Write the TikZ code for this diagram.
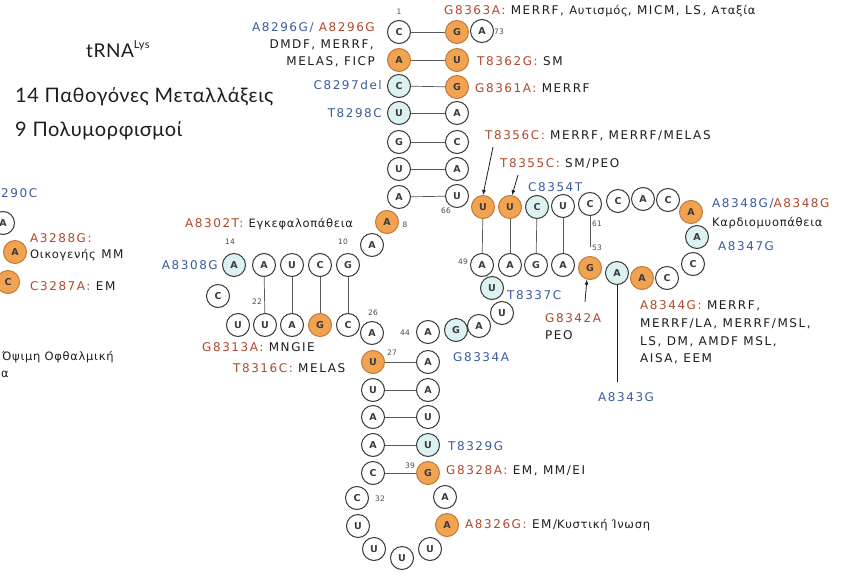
\documentclass[tikz,border=0pt]{standalone}
\usepackage{fontspec}
\setmainfont{DejaVu Sans}
\newfontfamily\labfont[LetterSpace=13]{DejaVu Sans}
\newfontfamily\grfontfam[LetterSpace=6]{DejaVu Sans}
\newfontfamily\headfont[LetterSpace=3]{Lato}
\newcommand{\gr}[1]{{\grfontfam\fontsize{11.5}{14}\selectfont #1}}
\usetikzlibrary{arrows.meta}
\definecolor{mutred}{HTML}{B0482E}
\definecolor{polyblue}{HTML}{3B5C9C}
\definecolor{ntorange}{HTML}{F2A352}
\definecolor{ntorangeline}{HTML}{C07A38}
\definecolor{ntblue}{HTML}{DCF1F1}
\definecolor{ntline}{HTML}{3A3A3A}
\definecolor{textdark}{HTML}{1E1E1E}
\tikzset{
  nt/.style={circle, draw=ntline, line width=1pt, fill=white, minimum size=23pt,
    inner sep=0pt, text=ntline, font=\bfseries\fontsize{9.5}{10}\selectfont},
  ntor/.style={nt, fill=ntorange, draw=ntorangeline},
  ntbl/.style={nt, fill=ntblue},
  bond/.style={draw=black!65, line width=0.7pt},
  lbl/.style={font=\labfont\fontsize{12}{14}\selectfont, inner sep=0pt, text=textdark},
  lblw/.style={lbl, anchor=base west},
  lble/.style={lbl, anchor=base east},
  idx/.style={font=\fontsize{7.5}{8}\selectfont, text=black!70, inner sep=0pt},
  arr/.style={draw=textdark, line width=0.8pt, -{Latex[length=5pt,width=4pt]}},
  head/.style={font=\headfont\fontsize{20}{22}\selectfont, inner sep=0pt, text=textdark, anchor=base west}
}
\begin{document}
\begin{tikzpicture}[x=1pt,y=-1pt]
\clip (0,0) rectangle (847,584);
\fill[white] (0,0) rectangle (847,584);

% ---- headings
\node[head, font=\headfont\fontsize{19}{22}\selectfont] (title) at (86,57) {tRNA\raisebox{0.45em}{\fontsize{11}{12}\selectfont Lys}};
\node[head] (patho) at (15,102) {14 Παθογόνες Μεταλλάξεις};
\node[head] (poly) at (15,136) {9 Πολυμορφισμοί};

% ---- acceptor stem
\node[nt]   (aL1) at (399,32)  {C};
\node[ntor] (aL2) at (399,60)  {A};
\node[ntbl] (aL3) at (399,86)  {C};
\node[ntbl] (aL4) at (399,113) {U};
\node[nt]   (aL5) at (399,142) {G};
\node[nt]   (aL6) at (399,169) {U};
\node[nt]   (aL7) at (399,197) {A};
\node[ntor] (aR1) at (457,32)  {G};
\node[ntor] (aR2) at (457,60)  {U};
\node[ntor] (aR3) at (457,87)  {G};
\node[nt]   (aR4) at (457,113) {A};
\node[nt]   (aR5) at (457,142) {C};
\node[nt]   (aR6) at (457,169) {A};
\node[nt]   (aR7) at (457,196) {U};
\node[nt]   (tail) at (482,31) {A};
\foreach \i in {1,...,7} \draw[bond] (aL\i) -- (aR\i);

% ---- D arm
\node[ntor] (d8)  at (387,222) {A};
\node[nt]   (d9)  at (372,245) {A};
\node[nt]   (dT1) at (348,265) {G};
\node[nt]   (dT2) at (320,265) {C};
\node[nt]   (dT3) at (292,265) {U};
\node[nt]   (dT4) at (264,265) {A};
\node[ntbl] (dT5) at (234,265) {A};
\node[nt]   (dL1) at (218,296) {C};
\node[nt]   (dL2) at (238,325) {U};
\node[nt]   (dB4) at (265,325) {U};
\node[nt]   (dB3) at (292,325) {A};
\node[ntor] (dB2) at (320,325) {G};
\node[nt]   (dB1) at (348,325) {C};
\node[nt]   (d26) at (372,333) {A};
\foreach \i in {1,...,4} \draw[bond] (dT\i) -- (dB\i);

% ---- anticodon arm
\node[ntor] (cL1) at (373,362) {U};
\node[nt]   (cL2) at (373,390) {U};
\node[nt]   (cL3) at (373,417) {A};
\node[nt]   (cL4) at (373,445) {A};
\node[nt]   (cL5) at (373,473) {C};
\node[nt]   (cP1) at (357,498) {C};
\node[nt]   (cP2) at (358,526) {U};
\node[nt]   (cP3) at (374,549) {U};
\node[nt]   (cP4) at (402,558) {U};
\node[nt]   (cP5) at (430,549) {U};
\node[ntor] (cP6) at (447,525) {A};
\node[nt]   (cP7) at (445,497) {A};
\node[ntor] (cR5) at (428,473) {G};
\node[ntbl] (cR4) at (428,445) {U};
\node[nt]   (cR3) at (428,417) {U};
\node[nt]   (cR2) at (428,390) {A};
\node[nt]   (cR1) at (428,362) {A};
\foreach \i in {1,...,5} \draw[bond] (cL\i) -- (cR\i);

% ---- variable loop
\node[nt]   (v1) at (428,332) {A};
\node[ntbl] (v2) at (456,330) {G};
\node[nt]   (v3) at (479,326) {A};
\node[nt]   (v4) at (502,313) {U};
\node[ntbl] (v5) at (492,288) {U};

% ---- T arm
\node[nt]   (tB1) at (482,265) {A};
\node[nt]   (tB2) at (510,265) {A};
\node[nt]   (tB3) at (536,265) {G};
\node[nt]   (tB4) at (563,265) {A};
\node[ntor] (tB5) at (590,268) {G};
\node[ntbl] (tL1) at (617,273) {A};
\node[ntor] (tL2) at (642,278) {A};
\node[nt]   (tL3) at (667,278) {C};
\node[nt]   (tL4) at (693,264) {C};
\node[ntbl] (tL5) at (697,237) {A};
\node[ntor] (tL6) at (691,212) {A};
\node[nt]   (tL7) at (668,200) {C};
\node[nt]   (tL8) at (643,199) {A};
\node[nt]   (tL9) at (618,201) {C};
\node[nt]   (tT5) at (590,204) {C};
\node[nt]   (tT4) at (563,206) {U};
\node[ntbl] (tT3) at (537,207) {C};
\node[ntor] (tT2) at (510,207) {U};
\node[ntor] (tT1) at (483,207) {U};
\foreach \i in {1,...,4} \draw[bond] (tT\i) -- (tB\i);
\draw[bond, shorten >=9pt] (tT5) -- (tB5);

% ---- position numbers
\node[idx] (i1)  at (399,12)  {1};
\node[idx] (i73) at (499,32)  {73};
\node[idx] (i66) at (446,211) {66};
\node[idx] (i8)  at (405,225) {8};
\node[idx] (i14) at (230,242) {14};
\node[idx] (i10) at (343,242) {10};
\node[idx] (i22) at (257,302) {22};
\node[idx] (i26) at (373,313) {26};
\node[idx] (i27) at (392,353) {27};
\node[idx] (i39) at (410,466) {39};
\node[idx] (i32) at (380,499) {32};
\node[idx] (i44) at (405,333) {44};
\node[idx] (i49) at (463,262) {49};
\node[idx] (i61) at (597,224) {61};
\node[idx] (i53) at (597,248) {53};

% ---- pointers
\coordinate (p56) at (493,147);
\coordinate (p55) at (518,175);
\coordinate (p42) at (585,302);
\coordinate (p43) at (617,382);
\draw[arr] (p56) -- (tT1.north);
\draw[arr] (p55) -- (tT2.80);
\draw[arr] (p42) -- (tB5.255);
\draw[draw=textdark, line width=0.8pt] (tL1.south) -- (p43);

% ---- mutation labels
\node[lblw] (m8363) at (444,14) {\textcolor{mutred}{G8363A:} MERRF, \gr{Αυτισμός}, MICM, LS, \gr{Αταξία}};
\node[lble] (m8296) at (375,31) {\textcolor{polyblue}{A8296G/} \textcolor{mutred}{A8296G}};
\node[lble] (m8296b) at (374,48) {DMDF, MERRF,};
\node[lble] (m8296c) at (375,65) {MELAS, FICP};
\node[lble, text=polyblue] (m8297) at (382,89) {C8297del};
\node[lble, text=polyblue] (m8298) at (382,117) {T8298C};
\node[lblw] (m8362) at (477,65) {\textcolor{mutred}{T8362G:} SM};
\node[lblw] (m8361) at (475,92) {\textcolor{mutred}{G8361A:} MERRF};
\node[lblw] (m8356) at (485,139) {\textcolor{mutred}{T8356C:} MERRF, MERRF/MELAS};
\node[lblw] (m8355) at (500,167) {\textcolor{mutred}{T8355C:} SM/PEO};
\node[lblw, text=polyblue] (m8354) at (528,191) {C8354T};
\node[lblw] (m8348) at (712,207) {\textcolor{polyblue}{A8348G/}\textcolor{mutred}{A8348G}};
\node[lblw] (m8348b) at (712,226) {\gr{Καρδιομυοπάθεια}};
\node[lblw, text=polyblue] (m8347) at (718,250) {A8347G};
\node[lblw] (m8302) at (185,227) {\textcolor{mutred}{A8302T:} \gr{Εγκεφαλοπάθεια}};
\node[lble, text=polyblue] (m8308) at (218,269) {A8308G};
\node[lblw] (m8313) at (202,351) {\textcolor{mutred}{G8313A:} MNGIE};
\node[lblw] (m8316) at (233,372) {\textcolor{mutred}{T8316C:} MELAS};
\node[lblw, text=polyblue] (m8334) at (453,361) {G8334A};
\node[lblw, text=polyblue] (m8337) at (507,299) {T8337C};
\node[lblw, text=mutred] (m8342) at (545,322) {G8342A};
\node[lblw] (m8342b) at (545,339) {PEO};
\node[lblw] (m8344) at (640,309) {\textcolor{mutred}{A8344G:} MERRF,};
\node[lblw] (m8344b) at (640,327) {MERRF/LA, MERRF/MSL,};
\node[lblw] (m8344c) at (640,345) {LS, DM, AMDF MSL,};
\node[lblw] (m8344d) at (640,362) {AISA, EEM};
\node[lblw, text=polyblue] (m8343) at (598,401) {A8343G};
\node[lblw, text=polyblue] (m8329) at (448,450) {T8329G};
\node[lblw] (m8328) at (446,474) {\textcolor{mutred}{G8328A:} EM, MM/EI};
\node[lblw] (m8326) at (465,528) {\textcolor{mutred}{A8326G:} EM/\gr{Κυστική Ίνωση}};

% ---- neighbouring tRNA at the left edge
\node[nt]   (x1) at (3,223) {A};
\node[ntor] (x2) at (15,252) {A};
\node[ntor] (x3) at (8,282) {C};
\node[lblw, text=polyblue] (x3290) at (1,197) {290C};
\node[lblw, text=mutred] (x3288) at (30,242) {A3288G:};
\node[lblw] (x3288b) at (30,258) {\gr{Οικογενής} MM};
\node[lblw] (x3287) at (30,290) {\textcolor{mutred}{C3287A:} EM};
\node[lblw] (xopt) at (2,360) {\gr{Όψιμη Οφθαλμική}};
\node[lblw] (xopt2) at (1,377) {\gr{α}};
\end{tikzpicture}
\end{document}
